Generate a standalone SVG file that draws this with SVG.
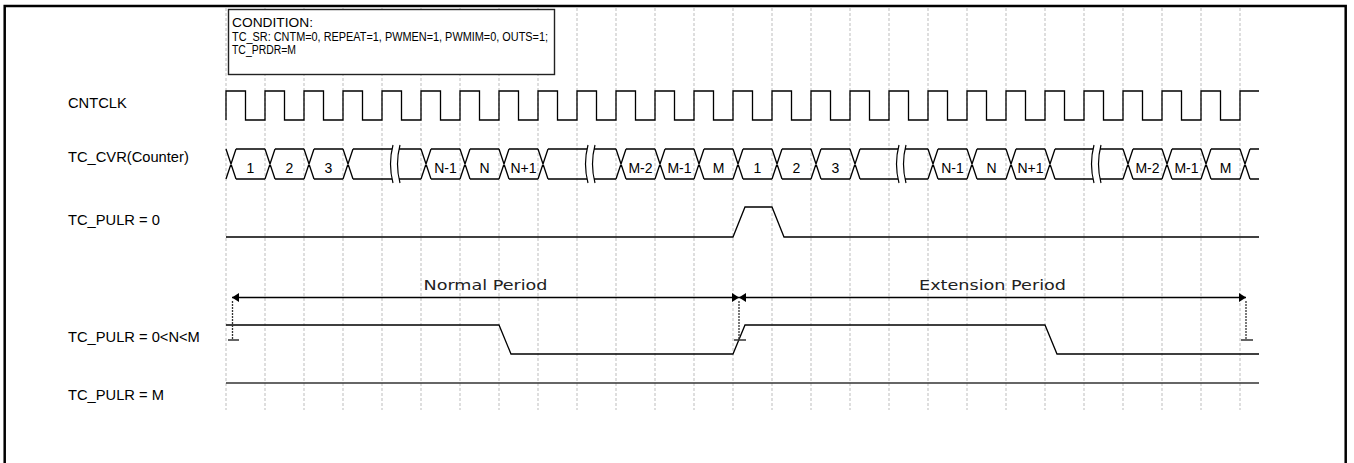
<svg xmlns="http://www.w3.org/2000/svg" width="1354" height="463" viewBox="0 0 1354 463">
<style>
.bg{fill:#fff}
.frame{fill:none;stroke:#000;stroke-width:2.5}
.grid{stroke:#bdbdbd;stroke-width:1;stroke-dasharray:3 2;fill:none}
.sig{fill:none;stroke:#000;stroke-width:1.3}
.lvlm{fill:none;stroke:#333;stroke-width:1.6}
.lbl{font-family:"Liberation Sans",Arial,sans-serif;font-size:14.7px;fill:#000}
.val{font-family:"Liberation Sans",Arial,sans-serif;font-size:14px;fill:#000;text-anchor:middle}
.cond{font-family:"Liberation Sans",Arial,sans-serif;font-size:12.5px;fill:#000}
.per{font-family:"DejaVu Sans",Verdana,sans-serif;font-size:14px;fill:#222;text-anchor:middle}
.dot{fill:none;stroke:#333;stroke-width:1.3;stroke-dasharray:2 1}
.tick{fill:none;stroke:#333;stroke-width:1.3}
.brk{fill:none;stroke:#000;stroke-width:1.2}
</style>
<defs>
<marker id="ah" markerUnits="userSpaceOnUse" markerWidth="7" markerHeight="9" refX="7" refY="4.5" orient="auto-start-reverse">
<path d="M0,0 L7,4.5 L0,9 z" fill="#000"/>
</marker>
</defs>
<rect class="bg" x="0" y="0" width="1354" height="463"/>
<path class="frame" d="M4.7,470 V6 H1345.7 V470"/>

<g id="grid">
<path class="grid" d="M226,8V410 M265,8V410 M304,8V410 M343,8V410 M382,8V410 M421,8V410 M460,8V410 M499,8V410 M538,8V410 M577,8V410 M616,8V410 M655,8V410 M694,8V410 M733,8V410 M772,8V410 M811,8V410 M850,8V410 M889,8V410 M928,8V410 M967,8V410 M1006,8V410 M1045,8V410 M1084,8V410 M1123,8V410 M1162,8V410 M1201,8V410 M1240,8V410"/>
</g>

<g id="condition">
<rect x="228.5" y="9.5" width="326" height="65" fill="#fff" stroke="#222" stroke-width="1.4"/>
<text class="cond" x="232" y="27" textLength="81" lengthAdjust="spacingAndGlyphs">CONDITION:</text>
<text class="cond" x="232" y="40.5" textLength="316" lengthAdjust="spacingAndGlyphs">TC_SR: CNTM=0, REPEAT=1, PWMEN=1, PWMIM=0, OUTS=1;</text>
<text class="cond" x="232" y="54" textLength="64" lengthAdjust="spacingAndGlyphs">TC_PRDR=M</text>
</g>

<g id="labels">
<text class="lbl" x="68" y="108">CNTCLK</text>
<text class="lbl" x="68" y="162">TC_CVR(Counter)</text>
<text class="lbl" x="68" y="225">TC_PULR = 0</text>
<text class="lbl" x="68" y="342">TC_PULR = 0&lt;N&lt;M</text>
<text class="lbl" x="68" y="400">TC_PULR = M</text>
</g>

<g id="cntclk">
<path class="sig" d="M226,120 V91 H245.5 V120 H265 V91 H284.5 V120 H304 V91 H323.5 V120 H343 V91 H362.5 V120 H382 V91 H401.5 V120 H421 V91 H440.5 V120 H460 V91 H479.5 V120 H499 V91 H518.5 V120 H538 V91 H557.5 V120 H577 V91 H596.5 V120 H616 V91 H635.5 V120 H655 V91 H674.5 V120 H694 V91 H713.5 V120 H733 V91 H752.5 V120 H772 V91 H791.5 V120 H811 V91 H830.5 V120 H850 V91 H869.5 V120 H889 V91 H908.5 V120 H928 V91 H947.5 V120 H967 V91 H986.5 V120 H1006 V91 H1025.5 V120 H1045 V91 H1064.5 V120 H1084 V91 H1103.5 V120 H1123 V91 H1142.5 V120 H1162 V91 H1181.5 V120 H1201 V91 H1220.5 V120 H1240 V91 H1259"/>
</g>

<g id="tc_cvr">
<path class="sig" d="M226,149 L236,179 M226,179 L236,149 M265,149 L275,179 M265,179 L275,149 M304,149 L314,179 M304,179 L314,149 M343,149 L353,179 M343,179 L353,149 M421,149 L431,179 M421,179 L431,149 M460,149 L470,179 M460,179 L470,149 M499,149 L509,179 M499,179 L509,149 M538,149 L548,179 M538,179 L548,149 M616,149 L626,179 M616,179 L626,149 M655,149 L665,179 M655,179 L665,149 M694,149 L704,179 M694,179 L704,149 M733,149 L743,179 M733,179 L743,149 M772,149 L782,179 M772,179 L782,149 M811,149 L821,179 M811,179 L821,149 M850,149 L860,179 M850,179 L860,149 M928,149 L938,179 M928,179 L938,149 M967,149 L977,179 M967,179 L977,149 M1006,149 L1016,179 M1006,179 L1016,149 M1045,149 L1055,179 M1045,179 L1055,149 M1123,149 L1133,179 M1123,179 L1133,149 M1162,149 L1172,179 M1162,179 L1172,149 M1201,149 L1211,179 M1201,179 L1211,149 M1240,149 L1250,179 M1240,179 L1250,149"/>
<path class="sig" d="M236,149 H265 M275,149 H304 M314,149 H343 M353,149 H421 M431,149 H460 M470,149 H499 M509,149 H538 M548,149 H616 M626,149 H655 M665,149 H694 M704,149 H733 M743,149 H772 M782,149 H811 M821,149 H850 M860,149 H928 M938,149 H967 M977,149 H1006 M1016,149 H1045 M1055,149 H1123 M1133,149 H1162 M1172,149 H1201 M1211,149 H1240 M1250,149 H1259"/>
<path class="sig" d="M236,179 H265 M275,179 H304 M314,179 H343 M353,179 H421 M431,179 H460 M470,179 H499 M509,179 H538 M548,179 H616 M626,179 H655 M665,179 H694 M704,179 H733 M743,179 H772 M782,179 H811 M821,179 H850 M860,179 H928 M938,179 H967 M977,179 H1006 M1016,179 H1045 M1055,179 H1123 M1133,179 H1162 M1172,179 H1201 M1211,179 H1240 M1250,179 H1259"/>
<g id="breaks">
<rect x="392" y="146" width="7" height="36" fill="#fff"/>
<path class="brk" d="M393,145 Q388,164 393,183 M400,145 Q395,164 400,183"/>
<rect x="587" y="146" width="7" height="36" fill="#fff"/>
<path class="brk" d="M588,145 Q583,164 588,183 M595,145 Q590,164 595,183"/>
<rect x="898" y="146" width="7" height="36" fill="#fff"/>
<path class="brk" d="M899,145 Q894,164 899,183 M906,145 Q901,164 906,183"/>
<rect x="1093" y="146" width="7" height="36" fill="#fff"/>
<path class="brk" d="M1094,145 Q1089,164 1094,183 M1101,145 Q1096,164 1101,183"/>
</g>
<text class="val" x="250.5" y="173">1</text>
<text class="val" x="289.5" y="173">2</text>
<text class="val" x="328.5" y="173">3</text>
<text class="val" x="445.5" y="173">N-1</text>
<text class="val" x="484.5" y="173">N</text>
<text class="val" x="523.5" y="173">N+1</text>
<text class="val" x="640.5" y="173">M-2</text>
<text class="val" x="679.5" y="173">M-1</text>
<text class="val" x="718.5" y="173">M</text>
<text class="val" x="757.5" y="173">1</text>
<text class="val" x="796.5" y="173">2</text>
<text class="val" x="835.5" y="173">3</text>
<text class="val" x="952.5" y="173">N-1</text>
<text class="val" x="991.5" y="173">N</text>
<text class="val" x="1030.5" y="173">N+1</text>
<text class="val" x="1147.5" y="173">M-2</text>
<text class="val" x="1186.5" y="173">M-1</text>
<text class="val" x="1225.5" y="173">M</text>
</g>

<g id="pulr0">
<path class="sig" d="M226,237 H733 L745,207 H772 L784,237 H1259"/>
</g>

<g id="pulrN">
<path class="sig" d="M226,325 H499 L511,354 H733 L745,325 H1045 L1057,354 H1259"/>
</g>

<g id="pulrM">
<path class="lvlm" d="M226,383 H1259"/>
</g>

<g id="connectors">
<path class="sig" d="M232,297.5 H739" marker-start="url(#ah)" marker-end="url(#ah)"/>
<path class="sig" d="M739,297.5 H1246" marker-start="url(#ah)" marker-end="url(#ah)"/>
<path class="dot" d="M232.5,301 V340 M739,301 V340 M1246,301 V340"/>
<path class="tick" d="M228,340 H239 M734,340 H746 M1241,340 H1253"/>
</g>

<g id="period-labels">
<text class="per" x="485.5" y="290" textLength="124" lengthAdjust="spacingAndGlyphs">Normal Period</text>
<text class="per" x="992.5" y="290" textLength="147" lengthAdjust="spacingAndGlyphs">Extension Period</text>
</g>
</svg>
